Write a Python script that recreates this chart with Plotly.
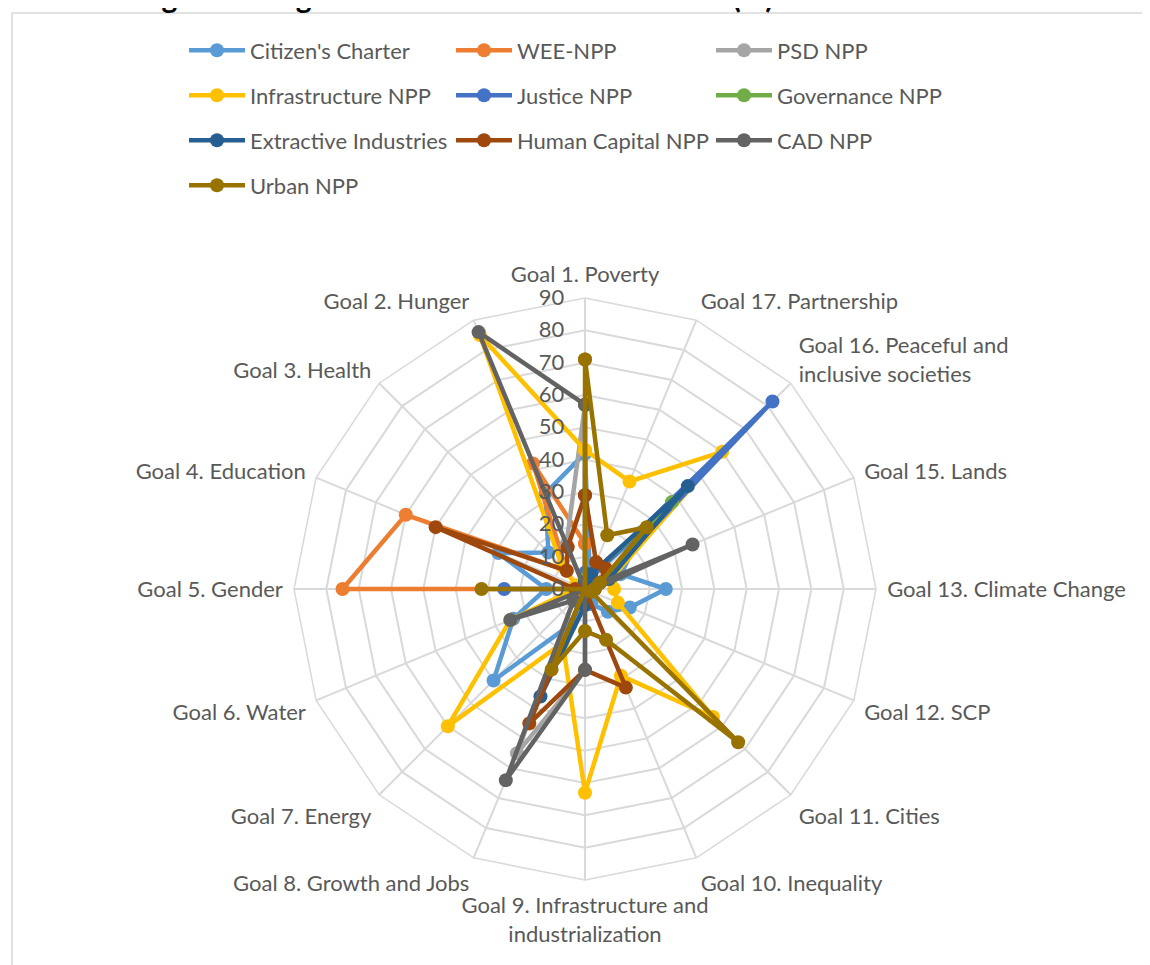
import plotly.graph_objects as go

# axes, clockwise from the top (no Goal 14 in the source)
goals = [
    "Goal 1. Poverty", "Goal 17. Partnership",
    "Goal 16. Peaceful and<br>inclusive societies", "Goal 15. Lands",
    "Goal 13. Climate Change", "Goal 12. SCP", "Goal 11. Cities",
    "Goal 10. Inequality", "Goal 9. Infrastructure and<br>industrialization",
    "Goal 8. Growth and Jobs", "Goal 7. Energy", "Goal 6. Water",
    "Goal 5. Gender", "Goal 4. Education", "Goal 3. Health", "Goal 2. Hunger",
]

citizens_charter = [42, 4, 25, 12, 25, 15, 10, 5, 5, 12, 40, 24, 12, 29, 16, 32]
wee_npp = [14, 0, 0, 0, 0, 0, 0, 0, 0, 0, 0, 0, 75, 60, 8, 42]
psd_npp = [57, 0, 0, 0, 0, 0, 0, 0, 25, 55, 5, 3, 0, 0, 0, 15]
infrastructure_npp = [43, 36, 60, 9, 9, 11, 56, 29, 63, 18, 60, 25, 3, 3, 10, 85]
justice_npp = [5, 3, 82, 5, 0, 0, 0, 0, 0, 0, 0, 0, 25, 0, 0, 0]
governance_npp = [3, 5, 38, 8, 0, 0, 0, 0, 0, 0, 0, 0, 0, 0, 0, 0]
extractive = [2, 5, 45, 8, 2, 0, 0, 0, 5, 36, 0, 0, 0, 0, 0, 0]
human_capital_npp = [29, 9, 9, 5, 3, 2, 0, 33, 25, 45, 0, 0, 3, 50, 8, 14]
cad_npp = [57, 0, 0, 36, 3, 0, 0, 0, 25, 64, 5, 25, 0, 0, 0, 86]
urban_npp = [71, 18, 27, 5, 3, 2, 67, 17, 13, 27, 0, 0, 32, 0, 0, 0]

series = [
    ("Citizen's Charter", citizens_charter, "#5B9BD5"),
    ("WEE-NPP", wee_npp, "#ED7D31"),
    ("PSD NPP", psd_npp, "#A5A5A5"),
    ("Infrastructure NPP", infrastructure_npp, "#FFC000"),
    ("Justice NPP", justice_npp, "#4472C4"),
    ("Governance NPP", governance_npp, "#70AD47"),
    ("Extractive Industries", extractive, "#255E91"),
    ("Human Capital NPP", human_capital_npp, "#9E480E"),
    ("CAD NPP", cad_npp, "#636363"),
    ("Urban NPP", urban_npp, "#997300"),
]

# page has an 8px body margin, so the figure is drawn 8px in
W, H = 1142, 957
cx, cy, R = 577, 581, 291
txt = "#595959"
grid = "#D9D9D9"

# legend grid: 3 columns, rows ~45px apart (like Excel)
col_x = [176, 443, 703]
row_y = [21.5, 66.5, 111.5, 156.5]

fig = go.Figure()
legends = {}
for i, (name, vals, col) in enumerate(series):
    key = "legend" if i == 0 else f"legend{i + 1}"
    fig.add_trace(go.Scatterpolar(
        r=vals + vals[:1],
        theta=goals + goals[:1],
        mode="lines+markers",
        name=name,
        legend=key,
        showlegend=True,
        line=dict(color=col, width=4.5),
        marker=dict(color=col, size=14),
    ))
    legends[key] = dict(
        x=col_x[i % 3] / W, y=1 - row_y[i // 3] / H,
        xanchor="left", yanchor="top",
        itemwidth=56, bgcolor="rgba(0,0,0,0)",
        font=dict(family="Lato", size=22, color=txt),
    )

fig.update_layout(
    width=W, height=H,
    margin=dict(l=0, r=0, t=0, b=0),
    showlegend=True,
    paper_bgcolor="white",
    plot_bgcolor="white",
    font=dict(family="Lato", size=22, color=txt),
    polar=dict(
        domain=dict(x=[(cx - R) / W, (cx + R) / W],
                    y=[(H - cy - R) / H, (H - cy + R) / H]),
        bgcolor="white",
        gridshape="linear",
        radialaxis=dict(
            range=[0, 90], dtick=10, angle=90, side="counterclockwise",
            tickangle=90, ticksuffix="\u00a0\u00a0\u00a0",
            showline=False, gridcolor=grid, gridwidth=1.5,
            ticks="", tickfont=dict(size=22, color=txt),
        ),
        angularaxis=dict(
            direction="clockwise", rotation=90,
            showline=True, linecolor=grid, linewidth=1.5,
            gridcolor=grid, gridwidth=1.5,
            ticks="outside", ticklen=6, tickcolor="rgba(0,0,0,0)",
            tickfont=dict(size=22, color=txt),
        ),
    ),
    shapes=[dict(type="rect", xref="paper", yref="paper",
                 x0=4 / W, x1=1.02, y0=-0.02, y1=1 - 5 / H,
                 line=dict(color=grid, width=1.5))],
    annotations=[dict(text="<b>Figure 1: Alignment of 10 NPPs with NSDGs (%)</b>",
                      xref="paper", yref="paper", x=127 / W, y=1 + 12 / H,
                      xanchor="left", yanchor="middle", showarrow=False,
                      font=dict(family="Lato", size=30, color="black"))],
    **legends,
)

fig.write_html("out.html")
